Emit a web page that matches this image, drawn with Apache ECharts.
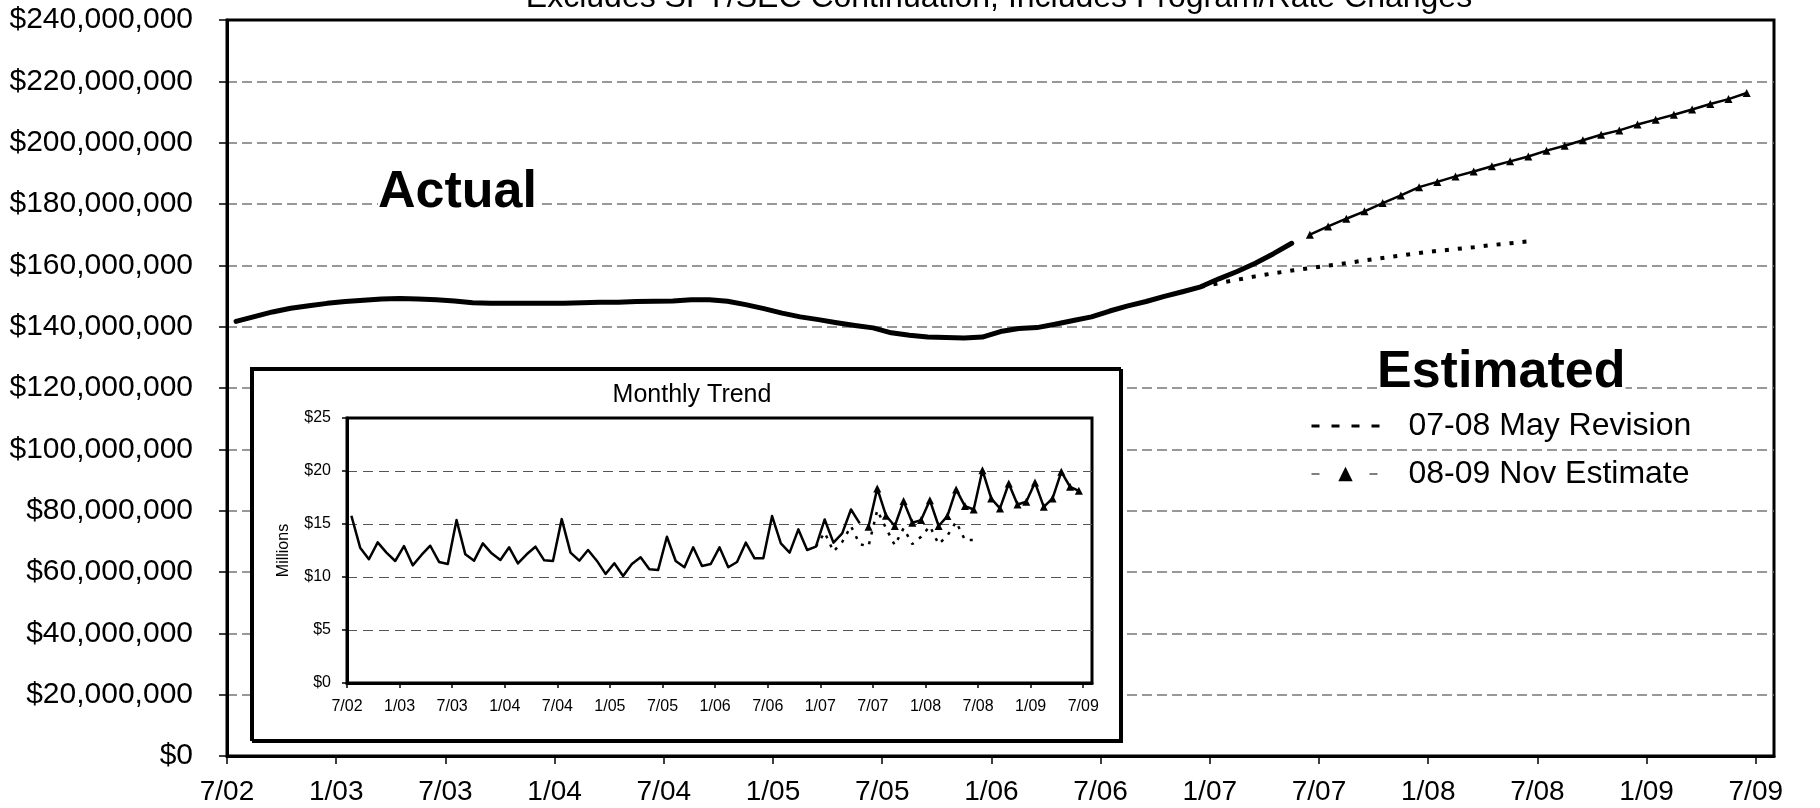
<!DOCTYPE html>
<html>
<head>
<meta charset="utf-8">
<script src="https://cdn.jsdelivr.net/npm/echarts@6/dist/echarts.min.js"></script>
<style>
  html, body { margin: 0; padding: 0; background: #fff; }
  #chart { width: 1820px; height: 808px; }
</style>
</head>
<body>
<div id="chart"></div>
<script>
// Month bands on the x axis: Jul 2002 .. Jul 2009
const monthNames = ['Jan','Feb','Mar','Apr','May','Jun','Jul','Aug','Sep','Oct','Nov','Dec'];
const months = [];
for (let y = 2002, m = 6; y < 2009 || (y === 2009 && m <= 6); m++) {
  if (m === 12) { m = 0; y++; }
  months.push(monthNames[m] + ' ' + y);
}

// Tick labels, one every six months starting at Jul 2002
const tickLabels = ['7/02','1/03','7/03','1/04','7/04','1/05','7/05','1/06','7/06','1/07','7/07','1/08','7/08','1/09','7/09'];

// 12-month rolling totals, $ millions
const actualTotalStart = 'Jul 2002';
const actualTotal = [
  141.7, 143.3, 144.8, 146.0, 146.8, 147.6, 148.2, 148.6, 149.0, 149.2, 149.0, 148.8,
  148.4, 147.8, 147.6, 147.6, 147.6, 147.6, 147.6, 147.8, 148.0, 148.0, 148.2, 148.3,
  148.4, 148.8, 148.8, 148.3, 147.2, 145.9, 144.4, 143.2, 142.3, 141.3, 140.4, 139.6,
  138.0, 137.2, 136.6, 136.5, 136.3, 136.6, 138.4, 139.4, 139.7, 140.8, 142.0, 143.2,
  145.1, 146.8, 148.2, 149.9, 151.4, 153.0, 155.6, 158.0, 160.7, 163.8, 167.2
];
const mayRevisionTotalStart = 'Dec 2006';
const mayRevisionTotal = [
  153.0, 154.2, 155.3, 156.4, 157.4, 158.3, 159.1, 159.9, 160.7, 161.6,
  162.4, 163.2, 164.0, 164.7, 165.3, 165.9, 166.6, 167.2, 167.8
];
const novEstimateTotalStart = 'Jun 2007';
const novEstimateTotal = [
  170.0, 172.7, 175.2, 177.6, 180.3, 182.8, 185.5, 187.2, 189.0, 190.6, 192.3, 193.9,
  195.5, 197.4, 199.0, 200.8, 202.6, 204.0, 205.9, 207.5, 209.1, 210.8, 212.6, 214.2, 216.2
];

// Monthly amounts, $ millions
const actualMonthlyStart = 'Jul 2002';
const actualMonthly = [
  15.78, 12.77, 11.67, 13.27, 12.30, 11.51, 12.92, 11.10, 12.08, 12.95, 11.42, 11.23,
  15.37, 12.14, 11.54, 13.17, 12.23, 11.61, 12.80, 11.29, 12.14, 12.86, 11.57, 11.51,
  15.46, 12.30, 11.54, 12.55, 11.54, 10.29, 11.29, 10.10, 11.23, 11.86, 10.73, 10.67,
  13.80, 11.51, 10.92, 12.80, 11.04, 11.23, 12.80, 10.92, 11.42, 13.24, 11.76, 11.76,
  15.75, 13.17, 12.30, 14.49, 12.55, 12.86, 15.43, 13.24, 14.12, 16.37, 15.06
];
const mayRevisionMonthlyStart = 'Dec 2006';
const mayRevisionMonthly = [
  12.86, 14.2, 12.4, 13.3, 14.8, 13.1, 12.9, 16.3, 14.6, 13.0,
  14.6, 13.1, 13.8, 14.8, 13.1, 13.9, 15.2, 13.5, 13.5
];
const novEstimateMonthlyStart = 'Jun 2007';
const novEstimateMonthly = [
  14.74, 18.35, 15.78, 14.81, 17.16, 15.12, 15.37, 17.25, 14.81, 15.75, 18.26, 16.69,
  16.37, 20.08, 17.41, 16.47, 18.82, 16.84, 17.10, 18.91, 16.62, 17.41, 19.92, 18.51, 18.13
];

const FONT = '"Liberation Sans", Arial, Helvetica, sans-serif';

// Each month sits in the middle of its one-month band on the value x axis
function placed(startMonth, values) {
  const s = months.indexOf(startMonth);
  return values.map((v, i) => [s + i + 0.5, v]);
}
const tickPos = tickLabels.map((_, i) => i * 6);

function xAxisFor(gridIndex, fontSize, margin, tickLen, lineWidth, z) {
  return {
    type: 'value', gridIndex, min: 0, max: months.length, z,
    axisLine: { show: true, lineStyle: { color: '#000', width: lineWidth } },
    axisTick: { show: true, length: tickLen, customValues: tickPos, lineStyle: { color: '#000', width: 1.5 } },
    axisLabel: {
      customValues: tickPos, formatter: v => tickLabels[Math.round(v / 6)],
      color: '#000', fontSize, fontFamily: FONT, margin
    },
    splitLine: { show: false }
  };
}

const chart = echarts.init(document.getElementById('chart'), null, { renderer: 'canvas' });

chart.setOption({
  animation: false,
  backgroundColor: '#fff',
  grid: [
    { left: 227, right: 46, top: 20, bottom: 52, show: true, borderColor: '#000', borderWidth: 3, z: 0 },
    { left: 347, right: 728, top: 418, bottom: 125, show: true, borderColor: '#000', borderWidth: 3, z: 4 }
  ],
  xAxis: [
    xAxisFor(0, 28, 22, 8, 3, 1),
    xAxisFor(1, 16, 16, 5, 3, 5)
  ],
  yAxis: [
    {
      type: 'value', gridIndex: 0, min: 0, max: 240, interval: 20, z: 1,
      axisLine: { show: true, lineStyle: { color: '#000', width: 3 } },
      axisTick: { show: true, length: 8, lineStyle: { color: '#000', width: 1.5 } },
      axisLabel: {
        formatter: v => '$' + (v * 1e6).toLocaleString('en-US'),
        color: '#000', fontSize: 30, fontFamily: FONT, margin: 34
      },
      splitLine: { show: true, showMinLine: false, showMaxLine: false,
        lineStyle: { color: '#777', width: 1.5, type: [10, 5] } }
    },
    {
      type: 'value', gridIndex: 1, min: 0, max: 25, interval: 5, z: 5,
      name: 'Millions', nameLocation: 'middle', nameGap: 55, nameRotate: 90,
      nameTextStyle: { color: '#000', fontSize: 16, fontFamily: FONT },
      axisLine: { show: true, lineStyle: { color: '#000', width: 3 } },
      axisTick: { show: true, length: 5, lineStyle: { color: '#000', width: 1.5 } },
      axisLabel: { formatter: v => '$' + v, color: '#000', fontSize: 16, fontFamily: FONT, margin: 16 },
      splitLine: { show: true, showMinLine: false, showMaxLine: false,
        lineStyle: { color: '#555', width: 1.2, type: [10, 6] } }
    }
  ],
  legend: {
    orient: 'vertical', left: 1305, top: 405, itemGap: 16,
    itemWidth: 68, itemHeight: 18, selectedMode: false,
    textStyle: { color: '#000', fontSize: 32, fontFamily: FONT, padding: [0, 0, 0, 24] },
    data: [
      { name: '07-08 May Revision',
        itemStyle: { opacity: 0 },
        lineStyle: { color: '#000', width: 3, type: [8, 12] } },
      { name: '08-09 Nov Estimate',
        lineStyle: { color: '#555', width: 1.5, type: [8, 50] },
        itemStyle: { color: '#000' } }
    ]
  },
  graphic: [
    { type: 'text', x: 999, y: -2, z: 10,
      style: { text: 'Excludes SFY/SEC Continuation, Includes Program/Rate Changes',
        fontSize: 32, fontFamily: FONT, fill: '#000', align: 'center', verticalAlign: 'middle' } },
    { type: 'text', x: 378, y: 193, z: 10,
      style: { text: 'Actual', fontSize: 52, fontWeight: 'bold', fontFamily: FONT, fill: '#000',
        align: 'left', verticalAlign: 'middle', backgroundColor: '#fff' } },
    { type: 'text', x: 1377, y: 373, z: 10,
      style: { text: 'Estimated', fontSize: 52, fontWeight: 'bold', fontFamily: FONT, fill: '#000',
        align: 'left', verticalAlign: 'middle', backgroundColor: '#fff' } },
    // inset panel
    { type: 'rect', z: 3,
      shape: { x: 251, y: 368, width: 869, height: 372 },
      style: { fill: '#fff', stroke: '#000', lineWidth: 2,
        shadowColor: '#000', shadowOffsetX: 2, shadowOffsetY: 2, shadowBlur: 0 } },
    { type: 'text', x: 692, y: 395, z: 10,
      style: { text: 'Monthly Trend', fontSize: 25, fontFamily: FONT, fill: '#000',
        align: 'center', verticalAlign: 'middle' } }
  ],
  series: [
    { name: '12-Month Actual', type: 'line', xAxisIndex: 0, yAxisIndex: 0, z: 2,
      data: placed(actualTotalStart, actualTotal), symbol: 'none',
      lineStyle: { color: '#000', width: 5, cap: 'round', join: 'round' } },
    { name: '07-08 May Revision', type: 'line', xAxisIndex: 0, yAxisIndex: 0, z: 2,
      data: placed(mayRevisionTotalStart, mayRevisionTotal), symbol: 'none',
      itemStyle: { color: '#000' },
      lineStyle: { color: '#000', width: 4, type: [4, 9] } },
    { name: '08-09 Nov Estimate', type: 'line', xAxisIndex: 0, yAxisIndex: 0, z: 2,
      data: placed(novEstimateTotalStart, novEstimateTotal),
      symbol: 'triangle', symbolSize: 8, showSymbol: true, showAllSymbol: true,
      itemStyle: { color: '#000' },
      lineStyle: { color: '#000', width: 2.5 } },

    { name: 'Monthly Actual', type: 'line', xAxisIndex: 1, yAxisIndex: 1, z: 6,
      data: placed(actualMonthlyStart, actualMonthly), symbol: 'none',
      lineStyle: { color: '#000', width: 2.5, join: 'round' } },
    { name: '07-08 May Revision', type: 'line', xAxisIndex: 1, yAxisIndex: 1, z: 6,
      data: placed(mayRevisionMonthlyStart, mayRevisionMonthly), symbol: 'none',
      itemStyle: { color: '#000' },
      lineStyle: { color: '#000', width: 2.5, type: [3, 7] } },
    { name: '08-09 Nov Estimate', type: 'line', xAxisIndex: 1, yAxisIndex: 1, z: 6,
      data: placed(novEstimateMonthlyStart, novEstimateMonthly),
      symbol: 'triangle', symbolSize: 8, showSymbol: true, showAllSymbol: true,
      itemStyle: { color: '#000' },
      lineStyle: { color: '#000', width: 2.5 } }
  ]
});
</script>
</body>
</html>
